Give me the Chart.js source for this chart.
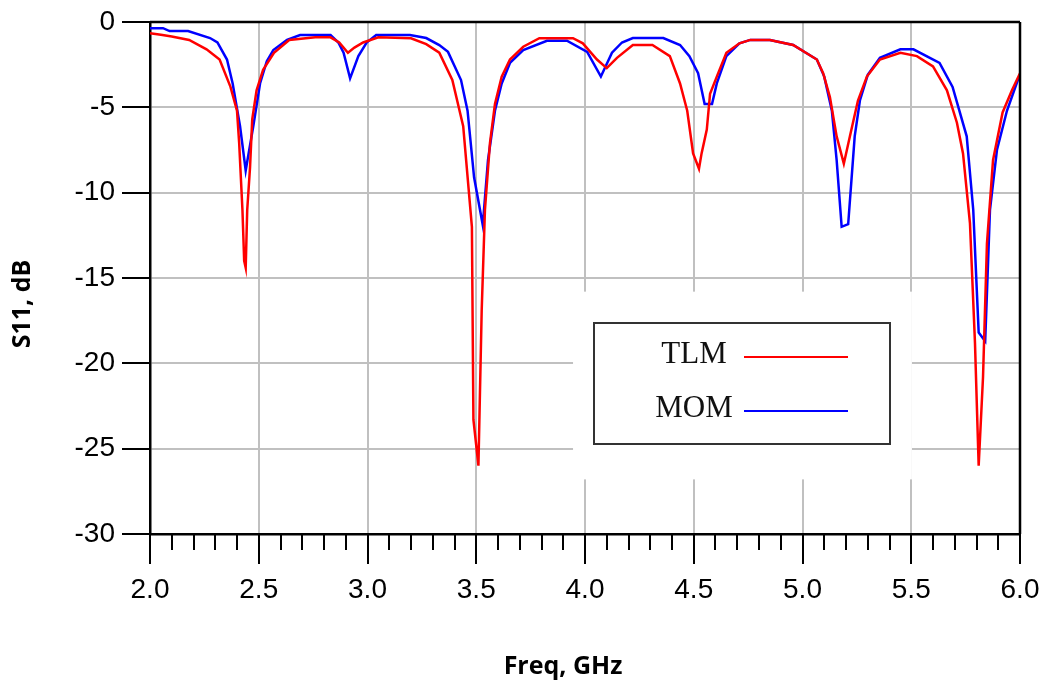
<!DOCTYPE html>
<html>
<head>
<meta charset="utf-8">
<script src="https://cdn.jsdelivr.net/npm/chart.js@4/dist/chart.umd.min.js"></script>
<style>
  html, body { margin: 0; padding: 0; background: #fff; }
  #chart { display: block; }
</style>
</head>
<body>
<canvas id="chart" width="1042" height="689"></canvas>
<script>
// S11, dB vs GHz
var freqTLM = [2.00, 2.05, 2.10, 2.18, 2.26, 2.32, 2.37, 2.40, 2.41, 2.425,
  2.433, 2.44, 2.447, 2.46, 2.47, 2.49, 2.52, 2.57, 2.64, 2.76,
  2.83, 2.87, 2.91, 2.94, 2.98, 3.05, 3.20, 3.27, 3.33, 3.39,
  3.44, 3.48, 3.487, 3.51, 3.525, 3.54, 3.563, 3.586, 3.617, 3.655,
  3.716, 3.79, 3.945, 3.99, 4.055, 4.10, 4.147, 4.22, 4.31, 4.39,
  4.437, 4.47, 4.497, 4.524, 4.536, 4.56, 4.575, 4.606, 4.65, 4.71,
  4.76, 4.85, 4.957, 5.066, 5.095, 5.126, 5.157, 5.19, 5.218, 5.255,
  5.296, 5.356, 5.45, 5.526, 5.60, 5.664, 5.71, 5.738, 5.77, 5.793,
  5.81, 5.83, 5.848, 5.876, 5.92, 5.963, 6.00];
var s11TLM = [-0.66, -0.75, -0.85, -1.05, -1.6, -2.2, -3.8, -5.2, -7.1, -11,
  -14, -14.4, -11, -8.5, -5.7, -4.0, -2.8, -1.8, -1.05, -0.9,
  -0.9, -1.2, -1.8, -1.5, -1.2, -0.9, -0.95, -1.3, -1.8, -3.4,
  -6.1, -12, -23.3, -26, -16.9, -11, -7.1, -4.8, -3.2, -2.2,
  -1.45, -0.95, -0.95, -1.25, -2.2, -2.7, -2.1, -1.35, -1.35, -2.0,
  -3.6, -5.2, -7.7, -8.6, -7.7, -6.3, -4.2, -3.2, -1.8, -1.25,
  -1.05, -1.05, -1.35, -2.2, -3.0, -4.4, -6.7, -8.3, -6.7, -4.6,
  -3.2, -2.2, -1.8, -2.0, -2.6, -4.0, -5.9, -7.7, -11.8, -18.8,
  -26, -20.8, -13, -8.1, -5.3, -4.0, -3.0];

var freqMOM = [2.00, 2.06, 2.09, 2.175, 2.276, 2.31, 2.354, 2.38, 2.414, 2.44,
  2.475, 2.506, 2.537, 2.567, 2.63, 2.69, 2.83, 2.866, 2.89, 2.92,
  2.958, 2.996, 3.04, 3.195, 3.27, 3.33, 3.37, 3.43, 3.46, 3.49,
  3.53, 3.554, 3.586, 3.617, 3.655, 3.716, 3.825, 3.917, 4.01, 4.073,
  4.124, 4.17, 4.22, 4.36, 4.437, 4.48, 4.52, 4.55, 4.584, 4.606,
  4.65, 4.71, 4.76, 4.85, 4.957, 5.066, 5.10, 5.135, 5.157, 5.18,
  5.21, 5.226, 5.24, 5.264, 5.30, 5.356, 5.45, 5.51, 5.63, 5.69,
  5.755, 5.785, 5.81, 5.84, 5.862, 5.894, 5.94, 5.99, 6.00];
var s11MOM = [-0.36, -0.36, -0.53, -0.53, -0.94, -1.2, -2.2, -3.6, -6.1, -8.7,
  -6.1, -3.6, -2.3, -1.64, -1.05, -0.76, -0.76, -1.2, -1.8, -3.3,
  -2.0, -1.2, -0.76, -0.76, -0.94, -1.35, -1.75, -3.4, -5.2, -9.1,
  -11.9, -8.1, -5.2, -3.6, -2.4, -1.64, -1.1, -1.1, -1.75, -3.2,
  -1.8, -1.2, -0.94, -0.94, -1.35, -2.0, -3.0, -4.8, -4.8, -3.6,
  -2.0, -1.25, -1.05, -1.05, -1.35, -2.2, -3.2, -5.2, -8.1, -12.0,
  -11.85, -9.1, -6.7, -4.6, -3.1, -2.1, -1.6, -1.6, -2.4, -3.8,
  -6.7, -11, -18.2, -18.7, -11, -7.5, -5.2, -3.4, -3.1];

var xMin = 2.0, xMax = 6.0, xStep = 0.5;
var yMin = -30, yMax = 0, yStep = 5;
var xTitle = 'Freq, GHz';
var yTitle = 'S11, dB';

function zip(xs, ys) {
  return xs.map(function (x, i) { return { x: x, y: ys[i] }; });
}

// frame, tick marks, white patch behind legend, legend and axis titles
var decorations = {
  id: 'decorations',
  beforeDatasetsDraw: function (chart) {
    var ctx = chart.ctx, xs = chart.scales.x, ys = chart.scales.y;
    // gridlines are blanked out around the legend
    var x0 = xs.getPixelForValue(3.945), x1 = xs.getPixelForValue(5.503);
    var y0 = ys.getPixelForValue(-15.8), y1 = ys.getPixelForValue(-26.8);
    ctx.save();
    ctx.fillStyle = '#fff';
    ctx.fillRect(x0, y0, x1 - x0, y1 - y0);
    ctx.restore();
  },
  afterDraw: function (chart) {
    var ctx = chart.ctx, a = chart.chartArea;
    var xs = chart.scales.x, ys = chart.scales.y;
    ctx.save();
    ctx.strokeStyle = '#000';
    ctx.lineWidth = 2.5;
    ctx.beginPath();
    ctx.moveTo(a.left, a.top); ctx.lineTo(a.right, a.top);
    ctx.moveTo(a.right, a.top); ctx.lineTo(a.right, a.bottom);
    ctx.stroke();

    ctx.lineWidth = 2;
    ctx.beginPath();
    for (var i = Math.round(xMin * 10); i <= Math.round(xMax * 10); i++) {
      var px = Math.round(xs.getPixelForValue(i / 10));
      var len = (i % 5 === 0) ? 30 : 16;
      ctx.moveTo(px, a.bottom);
      ctx.lineTo(px, a.bottom + len);
    }
    for (var v = yMin; v <= yMax; v += yStep) {
      var py = Math.round(ys.getPixelForValue(v));
      ctx.moveTo(a.left, py);
      ctx.lineTo(a.left - 28, py);
    }
    ctx.stroke();

    // legend
    var lx = 594, ly = 323, lw = 296, lh = 121;
    ctx.strokeStyle = '#333';
    ctx.lineWidth = 2;
    ctx.strokeRect(lx, ly, lw, lh);
    ctx.font = '31px "Liberation Serif", "Times New Roman", serif';
    ctx.textAlign = 'center';
    ctx.textBaseline = 'middle';
    var rows = [355, 409];
    chart.data.datasets.forEach(function (ds, k) {
      ctx.fillStyle = '#111';
      ctx.fillText(ds.label, 694, rows[k]);
      ctx.strokeStyle = ds.borderColor;
      ctx.lineWidth = 2;
      ctx.beginPath();
      ctx.moveTo(744, rows[k] + 2);
      ctx.lineTo(848, rows[k] + 2);
      ctx.stroke();
    });

    // axis titles
    ctx.fillStyle = '#000';
    ctx.font = 'bold 25px "Open Sans", "Noto Sans", sans-serif';
    ctx.textAlign = 'center';
    ctx.textBaseline = 'middle';
    ctx.fillText(xTitle, 563, 667);
    ctx.translate(23, 304);
    ctx.rotate(-Math.PI / 2);
    ctx.fillText(yTitle, 0, 0);
    ctx.restore();
  }
};

var tickFont = { family: '"Liberation Sans", Arial, sans-serif', size: 28 };

var ctx = document.getElementById('chart').getContext('2d');
new Chart(ctx, {
  type: 'line',
  data: {
    datasets: [{
      label: 'TLM',
      data: zip(freqTLM, s11TLM),
      borderColor: '#ff0000',
      borderWidth: 2.5,
      pointRadius: 0,
      tension: 0,
      fill: false
    }, {
      label: 'MOM',
      data: zip(freqMOM, s11MOM),
      borderColor: '#0000ff',
      borderWidth: 2.5,
      pointRadius: 0,
      tension: 0,
      fill: false
    }]
  },
  options: {
    responsive: false,
    animation: false,
    layout: { padding: { top: 22, right: 22, left: 0, bottom: 0 } },
    plugins: {
      legend: { display: false },
      tooltip: { enabled: false }
    },
    scales: {
      x: {
        type: 'linear',
        min: xMin,
        max: xMax,
        afterFit: function (s) {
          s.height = 155;
          s.paddingLeft = 0;
          s.paddingRight = 0;
        },
        ticks: {
          stepSize: xStep,
          color: '#000',
          padding: 39,
          maxRotation: 0,
          font: tickFont,
          callback: function (v) { return Number(v).toFixed(1); }
        },
        grid: { color: '#c0c0c0', lineWidth: 2, drawTicks: false },
        border: { color: '#000', width: 2.5 }
      },
      y: {
        type: 'linear',
        min: yMin,
        max: yMax,
        afterFit: function (s) {
          s.width = 150;
          s.paddingTop = 0;
          s.paddingBottom = 0;
        },
        ticks: {
          stepSize: yStep,
          color: '#000',
          padding: 35,
          font: tickFont
        },
        grid: { color: '#c0c0c0', lineWidth: 2, drawTicks: false },
        border: { color: '#000', width: 2.5 }
      }
    }
  },
  plugins: [decorations]
});
</script>
</body>
</html>
